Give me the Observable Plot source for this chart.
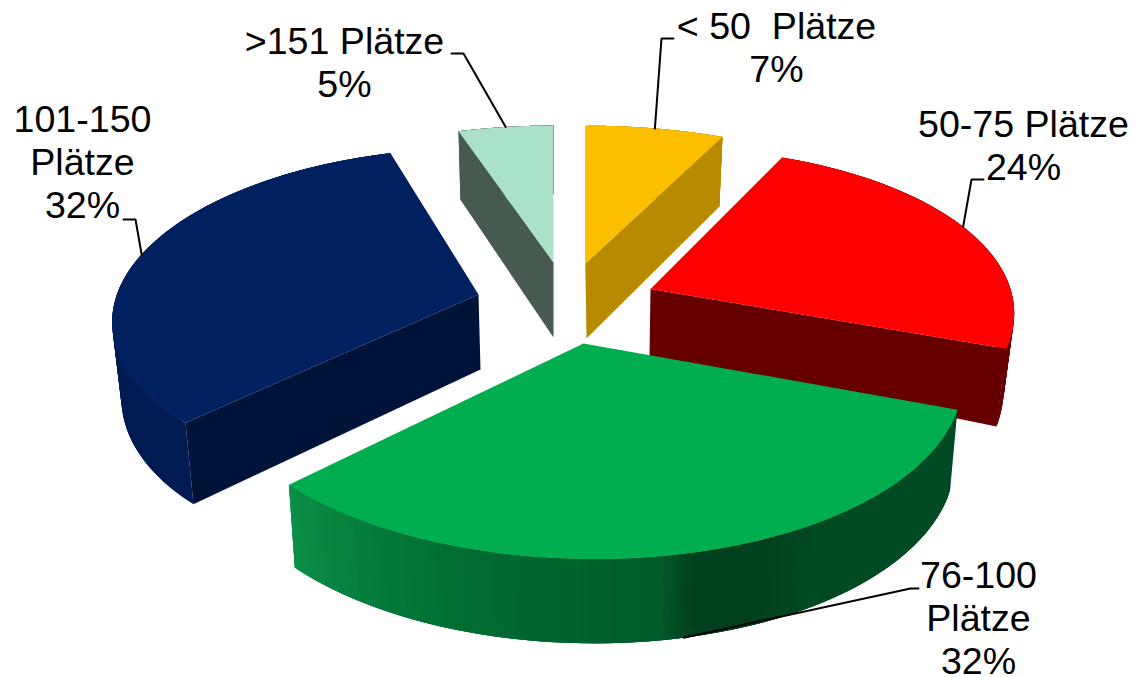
<!DOCTYPE html>
<html><head><meta charset="utf-8">
<style>html,body{margin:0;padding:0;background:#fff}svg{display:block}</style>
<script src="https://cdn.jsdelivr.net/npm/d3@7"></script>
<script src="https://cdn.jsdelivr.net/npm/@observablehq/plot@0.6"></script>
</head><body>
<script>
// Data
const categories = ["< 50  Plätze", "50-75 Plätze", "76-100\nPlätze", "101-150\nPlätze", ">151 Plätze"];
const shares = [7, 24, 32, 32, 5];
const topColors = ["#fcbf00", "#ff0000", "#00ae50", "#002060", "#a9e2c8"];
const faceColors = ["#b88a00", "#660000", "#004a24", "#001339", "#465a50"];
const wallColors = ["#b88a00", "#660000", null, "#001b52", "#465a50"];

// Fitted perspective of each exploded slice
const view = [
  {cx:585,cy:263,R:374,a:.18,b:0,p:0,k:.435,m:0,t:75,sx:.97,sy:1.04,ox:1,faces:["start","end"],order:1},
  {cx:650,cy:288.5,R:358,a:.176,b:0,p:0,k:.463,m:.0155,t:67,sx:.975,sy:1.18,ox:-1,faces:["end"],order:3},
  {cx:583,cy:343,R:370,a:.176,b:0,p:-.042,k:.48,m:.01,t:80,sx:.98,sy:1.02,ox:0,faces:[],order:4},
  {cx:478,cy:294,R:345.3,a:.1209,b:.0463,p:.03,k:.475,m:.004,t:75,sx:.98,sy:1.05,ox:2,faces:["start"],order:2},
  {cx:553,cy:262,R:360,a:.18,b:0,p:0,k:.449,m:0,t:75,sx:.98,sy:1.05,ox:0,faces:["start"],order:0}
];
// Label placement and leader elbows
const labelPos = [[776,27],[1023,125],[978,576],[82,120],[344,42]];
const labelLines = [[[661,38],[673,38]],[[971,179],[983,179]],[[910,588],[918,588]],[[135,219],[123,219]],[[463,53],[451,53]]];
const leaderOnBase = [false,false,true,false,false];

// Green wall shading around the rim (degrees -> colour)
const greenShade = d3.scaleLinear()
  .domain([111.6,150,158,168,172,200,227])
  .range(["#004a24","#004a24","#00401f","#00401f","#005a2a","#006e33","#0b8f47"]);

const total = d3.sum(shares);
const ends = d3.cumsum(shares);
const rad = d => d * Math.PI / 180;
const slices = shares.map((v,i) => ({
  i, v, th0: (ends[i]-v)/total*360, th1: ends[i]/total*360, g: view[i]
}));
function rim(g, th) {
  const s = Math.sin(rad(th)), c = Math.cos(rad(th));
  const den = 1 + g.a*c + g.b*s;
  return [g.R*(s + g.p*c)/den, -g.R*(g.k*c + g.m*s)/den];
}
const upper = (g,[dx,dy]) => [g.cx+dx, g.cy+dy];
const base = (g,[dx,dy]) => [g.cx+g.ox+dx*g.sx, g.cy+g.t+dy*g.sy];
const arc = (s) => d3.range(0, 121).map(j => s.th0 + (s.th1-s.th0)*j/120);

const polys = [];
let id = 0;
const addPoly = (pts, c) => { id++; pts.forEach(([x,y]) => polys.push({x,y,id,c})); };
slices.slice().sort((a,b)=>a.g.order-b.g.order).forEach(s => {
  const g = s.g, angs = arc(s);
  // outer wall: overlapping strips painted in order, so no seams show
  for (let j=0;j<angs.length-1;j++) {
    const a0=angs[j], a1=angs[Math.min(j+3,angs.length-1)];
    addPoly([upper(g,rim(g,a0)),upper(g,rim(g,a1)),base(g,rim(g,a1)),base(g,rim(g,a0))], wallColors[s.i] || greenShade(a0));
  }
  g.faces.forEach(f => {
    const th = f==="start" ? s.th0 : s.th1;
    addPoly([upper(g,[0,0]),upper(g,rim(g,th)),base(g,rim(g,th)),base(g,[0,0])], faceColors[s.i]);
  });
  addPoly([upper(g,[0,0]), ...angs.map(a=>upper(g,rim(g,a)))], topColors[s.i]);
});

const leaders = [];
slices.forEach(s => {
  const mid = (s.th0+s.th1)/2, r = rim(s.g,mid);
  const start = leaderOnBase[s.i] ? base(s.g,r) : upper(s.g,r);
  [start,...labelLines[s.i]].forEach(([x,y]) => leaders.push({x,y,i:s.i}));
});
const labels = slices.map(s => ({
  x: labelPos[s.i][0], y: labelPos[s.i][1], text: `${categories[s.i]}\n${s.v}%`
}));

const chart = Plot.plot({
  width:1135, height:677,
  margin:0,
  x:{domain:[0,1135], range:[0,1135], axis:null},
  y:{domain:[0,677], range:[0,677], axis:null},
  marks:[
    Plot.line(polys,{x:"x",y:"y",z:"id",fill:"c",curve:"linear-closed"}),
    Plot.line(leaders,{x:"x",y:"y",z:"i",stroke:"#000",strokeWidth:2,curve:"linear",strokeLinejoin:"miter"}),
    Plot.text(labels,{x:"x",y:"y",text:"text",fontSize:37.6,lineHeight:1.144,lineAnchor:"top",dy:-18.8,
      textAnchor:"middle",fill:"#000",fontFamily:"'Liberation Sans',Arial,sans-serif"})
  ]
});
document.body.appendChild(chart);
</script>
</body></html>
